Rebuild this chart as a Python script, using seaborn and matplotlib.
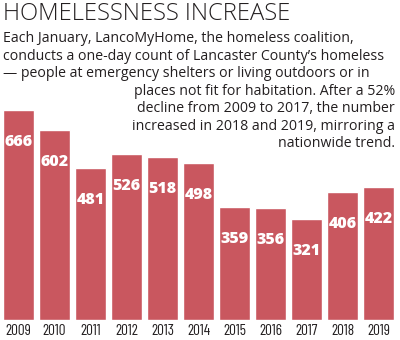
import matplotlib
matplotlib.use("Agg")
import matplotlib.pyplot as plt
import seaborn as sns
import pandas as pd
from matplotlib import font_manager

years = ["2009", "2010", "2011", "2012", "2013", "2014", "2015", "2016", "2017", "2018", "2019"]
counts = [666, 602, 481, 526, 518, 498, 359, 356, 321, 406, 422]

title = "HOMELESSNESS INCREASE"
intro_left = [
    "Each January, LancoMyHome, the homeless coalition,",
    "conducts a one-day count of Lancaster County\u2019s homeless",
    "\u2014 people at emergency shelters or living outdoors or in",
]
intro_right = [
    "places not fit for habitation. After a 52%",
    "decline from 2009 to 2017, the number",
    "increased in 2018 and 2019, mirroring a",
    "nationwide trend.",
]

BAR = "#c9575f"
INK = "#231f20"

sns.set_theme(style="white")
plt.rcParams["font.family"] = ["Open Sans", "DejaVu Sans"]

names = {f.name for f in font_manager.fontManager.ttflist}
narrow = next((n for n in ["Barlow Condensed", "Archivo Narrow", "Asap Condensed",
                           "Liberation Sans Narrow"] if n in names), "Liberation Sans")

W, H = 400, 340
fig = plt.figure(figsize=(W / 100, H / 100), dpi=100)
fig.patch.set_facecolor("white")

ax = fig.add_axes([0.5 / W, 20 / H, 396 / W, 220.5 / H])
df = pd.DataFrame({"year": years, "count": counts})
sns.barplot(data=df, x="year", y="count", color=BAR, saturation=1, width=0.86, ax=ax)
ax.set_xlim(-0.5, 10.5)
ax.set_ylim(0, 700)
ax.set_xlabel("")
ax.set_ylabel("")
ax.set_yticks([])
for s in ax.spines.values():
    s.set_visible(False)
ax.tick_params(axis="x", length=0, pad=3)
for lab in ax.get_xticklabels():
    lab.set_fontfamily(narrow)
    lab.set_fontsize(11)
    lab.set_color(INK)

for i, v in enumerate(counts):
    ax.annotate(str(v), (i, v), xytext=(0, -23), textcoords="offset points",
                ha="center", va="center", color="white", fontsize=11.5,
                fontweight="heavy")

renderer = fig.canvas.get_renderer()


def px(x, y):
    return x / W, 1 - y / H


def fitted(x, y, s, width, ha="left", **kw):
    """Place a line of text and size it so it spans the given pixel width."""
    t = fig.text(*px(x, y), s, ha=ha, va="center", color=INK, **kw)
    w = t.get_window_extent(renderer).width
    t.set_fontsize(t.get_fontsize() * width / w)
    return t


fitted(3, 14, title, 287, fontsize=16, fontweight="light")
y0 = 39
step = 17.4
body = fitted(3, y0 + step, intro_left[1], 384, fontsize=9.5)
fs = body.get_fontsize()
for k, line in enumerate(intro_left):
    if k == 1:
        continue
    fig.text(*px(3, y0 + k * step), line, fontsize=fs, color=INK,
             ha="left", va="center")
for k, line in enumerate(intro_right):
    fig.text(*px(395, y0 + (k + 3) * step), line, fontsize=fs, color=INK,
             ha="right", va="center")

fig.savefig("out.png", dpi=100, facecolor="white")
